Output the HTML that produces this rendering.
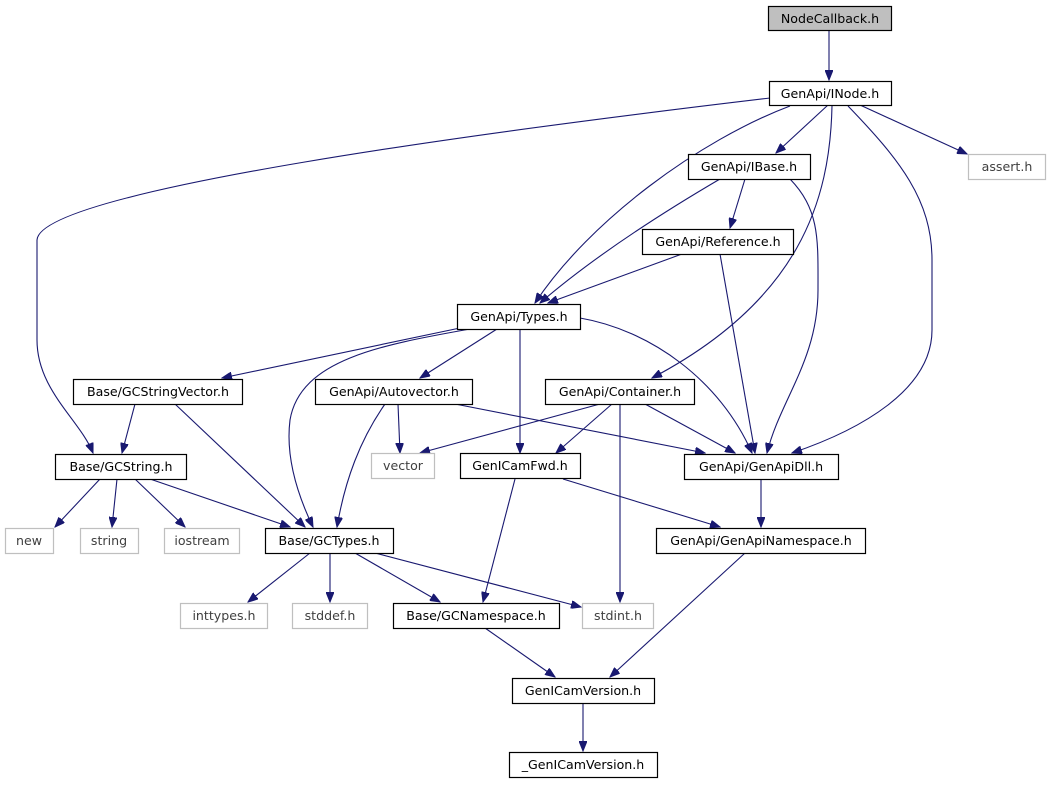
<!DOCTYPE html>
<html><head><meta charset="utf-8"><style>
html,body{margin:0;padding:0;background:#fff;}
svg text{font-family:"DejaVu Sans","Liberation Sans",sans-serif;font-size:12.6px;text-anchor:middle;}
</style></head><body>
<svg width="1050" height="784" viewBox="0 0 1050 784" xmlns="http://www.w3.org/2000/svg">
<defs><marker id="a" markerWidth="11" markerHeight="8" refX="10" refY="4" orient="auto" markerUnits="userSpaceOnUse"><path d="M0,0 L10,4 L0,8 z" fill="#191970" stroke="#191970"/></marker></defs>
<g fill="none" stroke="#191970" stroke-width="1.1" marker-end="url(#a)">
<path d="M829,30 L829,80"/>
<path d="M828,105 L776,153"/>
<path d="M860,105 L967,154"/>
<path d="M770,98 C500,130 40,190 37,240 L37,340 C37,390 80,420 93,453"/>
<path d="M790,106 C700,140 590,220 535,303"/>
<path d="M832,106 C830,200 800,300 652,378"/>
<path d="M848,106 C900,160 932,200 932,260 L932,330 C932,390 860,430 792,453"/>
<path d="M745,179 L730,228"/>
<path d="M720,179 C650,220 590,260 540,303"/>
<path d="M790,179 C820,210 818,240 818,290 C818,360 780,400 767,453"/>
<path d="M682,254 L548,303"/>
<path d="M720,254 L755,453"/>
<path d="M460,328 L222,378"/>
<path d="M497,329 L420,378"/>
<path d="M520,329 L520,453"/>
<path d="M580,318 C650,330 720,380 752,453"/>
<path d="M470,329 C380,345 300,360 290,420 C285,460 300,500 313,527"/>
<path d="M135,404 L122,453"/>
<path d="M175,404 L305,527"/>
<path d="M385,404 C360,440 345,480 337,527"/>
<path d="M398,404 L400,453"/>
<path d="M455,404 L705,453"/>
<path d="M600,404 L420,453"/>
<path d="M612,404 L556,453"/>
<path d="M645,404 L735,453"/>
<path d="M620,404 L620,602"/>
<path d="M100,479 L55,527"/>
<path d="M117,479 L112,527"/>
<path d="M135,479 L185,527"/>
<path d="M150,479 L290,527"/>
<path d="M515,479 L483,602"/>
<path d="M563,479 L720,527"/>
<path d="M761,479 L761,527"/>
<path d="M310,553 L248,602"/>
<path d="M330,553 L330,602"/>
<path d="M355,553 L440,602"/>
<path d="M375,553 L581,607"/>
<path d="M485,628 L555,677"/>
<path d="M745,553 L610,677"/>
<path d="M583,703 L583,751"/>
</g>
<g stroke-width="1.2">
<rect x="768.5" y="6.5" width="123" height="24" fill="#bfbfbf" stroke="#000"/><text x="830" y="23">NodeCallback.h</text>
<rect x="769.5" y="81.5" width="122" height="24" fill="#fff" stroke="#000"/><text x="830" y="98">GenApi/INode.h</text>
<rect x="968.5" y="154.5" width="77" height="25" fill="#fff" stroke="#bfbfbf"/><text x="1007" y="171" fill="#404040">assert.h</text>
<rect x="688.5" y="154.5" width="122" height="25" fill="#fff" stroke="#000"/><text x="749" y="171">GenApi/IBase.h</text>
<rect x="642.5" y="229.5" width="151" height="25" fill="#fff" stroke="#000"/><text x="718" y="246">GenApi/Reference.h</text>
<rect x="457.5" y="304.5" width="123" height="25" fill="#fff" stroke="#000"/><text x="519" y="321">GenApi/Types.h</text>
<rect x="73.5" y="379.5" width="169" height="25" fill="#fff" stroke="#000"/><text x="158" y="396">Base/GCStringVector.h</text>
<rect x="315.5" y="379.5" width="157" height="25" fill="#fff" stroke="#000"/><text x="394" y="396">GenApi/Autovector.h</text>
<rect x="545.5" y="379.5" width="149" height="25" fill="#fff" stroke="#000"/><text x="620" y="396">GenApi/Container.h</text>
<rect x="55.5" y="454.5" width="131" height="25" fill="#fff" stroke="#000"/><text x="121" y="471">Base/GCString.h</text>
<rect x="371.5" y="453.5" width="63" height="25" fill="#fff" stroke="#bfbfbf"/><text x="403" y="470" fill="#404040">vector</text>
<rect x="460.5" y="453.5" width="120" height="25" fill="#fff" stroke="#000"/><text x="520" y="470">GenICamFwd.h</text>
<rect x="684.5" y="454.5" width="154" height="25" fill="#fff" stroke="#000"/><text x="761" y="471">GenApi/GenApiDll.h</text>
<rect x="5.5" y="528.5" width="48" height="25" fill="#fff" stroke="#bfbfbf"/><text x="29" y="545" fill="#404040">new</text>
<rect x="80.5" y="528.5" width="58" height="25" fill="#fff" stroke="#bfbfbf"/><text x="109" y="545" fill="#404040">string</text>
<rect x="164.5" y="528.5" width="75" height="25" fill="#fff" stroke="#bfbfbf"/><text x="202" y="545" fill="#404040">iostream</text>
<rect x="265.5" y="528.5" width="128" height="25" fill="#fff" stroke="#000"/><text x="329" y="545">Base/GCTypes.h</text>
<rect x="656.5" y="528.5" width="209" height="25" fill="#fff" stroke="#000"/><text x="761" y="545">GenApi/GenApiNamespace.h</text>
<rect x="180.5" y="603.5" width="87" height="25" fill="#fff" stroke="#bfbfbf"/><text x="224" y="620" fill="#404040">inttypes.h</text>
<rect x="292.5" y="603.5" width="75" height="25" fill="#fff" stroke="#bfbfbf"/><text x="330" y="620" fill="#404040">stddef.h</text>
<rect x="393.5" y="603.5" width="166" height="25" fill="#fff" stroke="#000"/><text x="476" y="620">Base/GCNamespace.h</text>
<rect x="582.5" y="603.5" width="71" height="25" fill="#fff" stroke="#bfbfbf"/><text x="618" y="620" fill="#404040">stdint.h</text>
<rect x="512.5" y="678.5" width="142" height="25" fill="#fff" stroke="#000"/><text x="583" y="695">GenICamVersion.h</text>
<rect x="509.5" y="752.5" width="148" height="25" fill="#fff" stroke="#000"/><text x="583" y="769">_GenICamVersion.h</text>
</g>
</svg>
</body></html>
